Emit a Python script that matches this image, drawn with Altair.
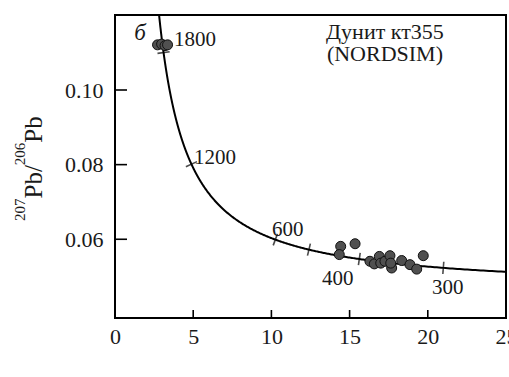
import numpy as np
import pandas as pd
import altair as alt

# Tera-Wasserburg concordia diagram, zircon from dunite kt355 (NORDSIM)
L238 = 1.55125e-10   # decay constant 238U, 1/yr
L235 = 9.8485e-10    # decay constant 235U, 1/yr
U_RATIO = 137.88     # 238U/235U

def concordia(age_ma):
    t = np.asarray(age_ma, dtype=float) * 1e6
    e238 = np.exp(L238 * t) - 1.0
    e235 = np.exp(L235 * t) - 1.0
    return 1.0 / e238, e235 / e238 / U_RATIO

# measured spot ratios (238U/206Pb, 207Pb/206Pb)
spot_u_pb = [2.72, 2.98, 3.20, 3.36,
             14.43, 14.34, 15.35, 16.30, 16.58, 16.90, 16.99, 17.26,
             17.58, 17.69, 17.63, 18.33, 18.86, 19.29, 19.71]
spot_pb_pb = [0.1121, 0.1123, 0.1119, 0.1121,
              0.0581, 0.0559, 0.0588, 0.0541, 0.0534, 0.0554, 0.0536, 0.0541,
              0.0556, 0.0523, 0.0536, 0.0543, 0.0532, 0.0520, 0.0556]

# age marks on the concordia, Ma
tick_ages = [300, 400, 500, 600, 1200, 1800]
label_text = ["1800", "1200", "600", "400", "300"]
label_x = [3.77, 5.05, 10.04, 13.24, 20.27]
label_y = [0.1134, 0.0818, 0.0625, 0.0493, 0.0469]

x_ticks = [5, 10, 15, 20]
y_ticks = [0.06, 0.08, 0.10]

# y-axis title pieces: isotope mass numbers set as superscripts
title_parts = ["207", "Pb/", "206", "Pb"]
title_super = [True, False, True, False]

X_DOMAIN = [0, 25]
Y_DOMAIN = [0.0389, 0.1201]
W, H = 391, 303
FONT = "Liberation Serif"
INK = "#1a1a1a"

ages = np.arange(240, 2101, 2)
cx, cy = concordia(ages)
curve = pd.DataFrame({"x": cx, "y": cy, "age": ages})
curve = curve[curve["x"] <= 25.6]

# orientation of the short cross-ticks, perpendicular to the curve on screen
sx = W / (X_DOMAIN[1] - X_DOMAIN[0])
sy = H / (Y_DOMAIN[1] - Y_DOMAIN[0])
tx, ty = concordia(tick_ages)
tx2, ty2 = concordia(np.array(tick_ages) + 1.0)
ang = np.degrees(np.arctan2(-(ty2 - ty) * sy, (tx2 - tx) * sx)) % 360
ticks_df = pd.DataFrame({"x": tx, "y": ty, "angle": ang})

spots = pd.DataFrame({"x": spot_u_pb, "y": spot_pb_pb})
labels = pd.DataFrame({"x": label_x, "y": label_y, "t": label_text})

xs = alt.Scale(domain=X_DOMAIN, nice=False, zero=False)
ys = alt.Scale(domain=Y_DOMAIN, nice=False, zero=False)

x_axis = alt.Axis(values=[0, 5, 10, 15, 20, 25], ticks=False, domain=False, grid=False,
                  labelFont=FONT, labelFontSize=22, labelColor=INK, labelPadding=8,
                  labelFlush=False, title=None)
y_axis = alt.Axis(values=y_ticks, format=".2f", ticks=False, domain=False, grid=False,
                  labelFont=FONT, labelFontSize=22, labelColor=INK, labelPadding=12,
                  title=None)

line = alt.Chart(curve).mark_line(color="black", strokeWidth=2, clip=True).encode(
    x=alt.X("x:Q", scale=xs, axis=x_axis),
    y=alt.Y("y:Q", scale=ys, axis=y_axis),
    order="age:Q",
)

cross = alt.Chart(ticks_df).mark_point(
    shape="M0,-1L0,1", filled=False, stroke="black", strokeWidth=1.6, size=150, clip=True
).encode(x=alt.X("x:Q", scale=xs), y=alt.Y("y:Q", scale=ys), angle=alt.Angle("angle:Q", scale=None))

dots = alt.Chart(spots).mark_circle(size=100, color="#505050", stroke="#111111",
                                    strokeWidth=1, opacity=1).encode(
    x=alt.X("x:Q", scale=xs), y=alt.Y("y:Q", scale=ys))

age_text = alt.Chart(labels).mark_text(
    font=FONT, fontSize=21, color=INK, align="left", baseline="middle"
).encode(x=alt.X("x:Q", scale=xs), y=alt.Y("y:Q", scale=ys), text="t:N")

xt = alt.Chart(pd.DataFrame({"v": x_ticks})).mark_rule(color="black", strokeWidth=1.6).encode(
    x=alt.X("v:Q", scale=xs), y=alt.value(H), y2=alt.value(H - 8))
yt = alt.Chart(pd.DataFrame({"v": y_ticks})).mark_rule(color="black", strokeWidth=1.6).encode(
    y=alt.Y("v:Q", scale=ys), x=alt.value(0), x2=alt.value(12))

panel = alt.Chart(pd.DataFrame({"x": [1.6], "y": [0.1153], "t": ["б"]})).mark_text(
    font=FONT, fontSize=23, fontStyle="italic", color=INK, align="center", baseline="middle"
).encode(x=alt.X("x:Q", scale=xs), y=alt.Y("y:Q", scale=ys), text="t:N")

sample = alt.Chart(pd.DataFrame({"x": [17.26, 17.26], "y": [0.11554, 0.10965],
                                 "t": ["Дунит кт355", "(NORDSIM)"]})).mark_text(
    font=FONT, fontSize=22, color=INK, align="center", baseline="middle"
).encode(x=alt.X("x:Q", scale=xs), y=alt.Y("y:Q", scale=ys), text="t:N")

# rotated y-axis title, built piece by piece so the mass numbers sit raised and small
MAIN_SIZE, SUP_SIZE = 25, 15
title_layers = []
pos = H - 97  # bottom end of the title, in plot pixels
for part, sup in zip(title_parts, title_super):
    size = SUP_SIZE if sup else MAIN_SIZE
    title_layers.append(
        alt.Chart(pd.DataFrame({"t": [part]})).mark_text(
            font=FONT, fontSize=size, color=INK, angle=270,
            align="left", baseline="alphabetic",
        ).encode(text="t:N", x=alt.value(-90 if sup else -73), y=alt.value(pos))
    )
    width_em = {"207": 1.5, "206": 1.5, "Pb/": 1.334, "Pb": 1.056}[part]
    pos -= width_em * size

chart = alt.layer(line, cross, dots, age_text, xt, yt, panel, sample, *title_layers).properties(
    width=W, height=H,
    autosize=alt.AutoSizeParams(type="none"),
    padding={"left": 115, "top": 15, "right": 3, "bottom": 59},
    background="white",
).configure_view(stroke="black", strokeWidth=2)

chart.save("out.html", embed_options={"renderer": "svg", "actions": False})
